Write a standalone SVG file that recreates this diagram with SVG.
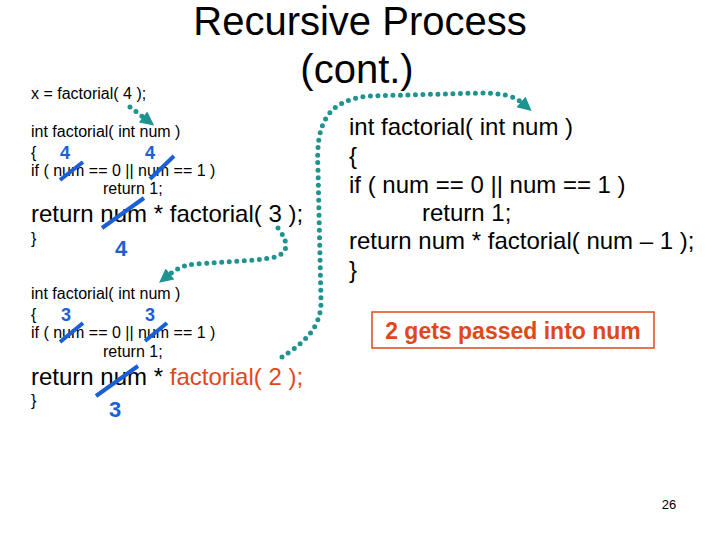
<svg xmlns="http://www.w3.org/2000/svg" width="720" height="540" viewBox="0 0 720 540" xml:space="preserve">
<style>
text{font-family:"Liberation Sans",Arial,sans-serif;fill:#000}
.t{font-size:40px}
.s{font-size:16px}
.m{font-size:24px}
.r{font-size:24px}
.n{font-weight:bold;fill:#1a5fd6;font-size:18px;text-anchor:middle}
.nb{font-weight:bold;fill:#1a5fd6;font-size:22px;text-anchor:middle}
.o{fill:#e0481c}
.strike{stroke:#1a5fd6;stroke-width:4;stroke-linecap:butt}
.dot{fill:none;stroke:#1e9390;stroke-width:5;stroke-linecap:round;stroke-dasharray:0 7.5;marker-end:url(#ah)}
</style>
<defs>
<marker id="ah" markerUnits="userSpaceOnUse" viewBox="0 0 10 10" refX="0" refY="5" markerWidth="15" markerHeight="14" orient="auto">
<path d="M0,0 L10,5 L0,10 z" fill="#1e9390"/>
</marker>
</defs>
<rect width="720" height="540" fill="#fff"/>
<g id="title">
<text class="t" x="360" y="35" text-anchor="middle">Recursive Process</text>
<text class="t" x="357" y="83" text-anchor="middle">(cont.)</text>
</g>
<g id="call">
<text class="s" x="31" y="99">x = factorial( 4 );</text>
</g>
<g id="block1">
<text class="s" x="31" y="137">int factorial( int num )</text>
<text class="s" x="31" y="158">{</text>
<text class="n" x="65" y="159">4</text>
<text class="n" x="150" y="159">4</text>
<text class="s" x="31" y="176">if ( num == 0  || num == 1 )</text>
<text class="s" x="103" y="194">return 1;</text>
<text class="m" x="31" y="222">return num * factorial( 3 );</text>
<text class="s" x="31" y="244">}</text>
<text class="nb" x="121" y="256">4</text>
<line class="strike" x1="60" y1="180" x2="83" y2="162"/>
<line class="strike" x1="150" y1="179" x2="174" y2="156"/>
<line class="strike" x1="102" y1="228" x2="144" y2="198"/>
</g>
<g id="block2">
<text class="s" x="31" y="299">int factorial( int num )</text>
<text class="s" x="31" y="320">{</text>
<text class="n" x="66" y="321">3</text>
<text class="n" x="150" y="321">3</text>
<text class="s" x="31" y="338">if ( num == 0 || num == 1 )</text>
<text class="s" x="103" y="357">return 1;</text>
<text class="m" x="31" y="385">return num * <tspan class="o">factorial( 2 );</tspan></text>
<text class="s" x="31" y="406">}</text>
<text class="nb" x="115" y="417">3</text>
<line class="strike" x1="60" y1="342" x2="83" y2="323"/>
<line class="strike" x1="145" y1="341" x2="167" y2="323"/>
<line class="strike" x1="96" y1="396" x2="138" y2="366"/>
</g>
<g id="block3">
<text class="r" x="349" y="135">int factorial( int num )</text>
<text class="r" x="349" y="164">{</text>
<text class="r" x="349" y="193">if ( num == 0 || num == 1 )</text>
<text class="r" x="422" y="221">return 1;</text>
<text class="r" x="349" y="249">return num * factorial( num – 1 );</text>
<text class="r" x="349" y="278">}</text>
</g>
<g id="note">
<rect x="372" y="312" width="282" height="36" fill="none" stroke="#e0481c" stroke-width="1.5"/>
<text x="513" y="339" text-anchor="middle" font-weight="bold" font-size="23" class="o" style="fill:#e0481c">2 gets passed into num</text>
</g>
<g id="page">
<text x="669" y="509" text-anchor="middle" font-size="13">26</text>
</g>
<g id="connectors">
<path class="dot" d="M130,107 L143,117"/>
<path class="dot" d="M278,228 C287,240 291,252 275,257 C255,262 205,262 188,265 C180,267 175,270 170,274"/>
<path class="dot" d="M282,357 C300,345 322,330 321,300 L318,170 C316,130 322,100 370,96 L480,93 C502,93 514,96 521,102"/>
</g>
</svg>
